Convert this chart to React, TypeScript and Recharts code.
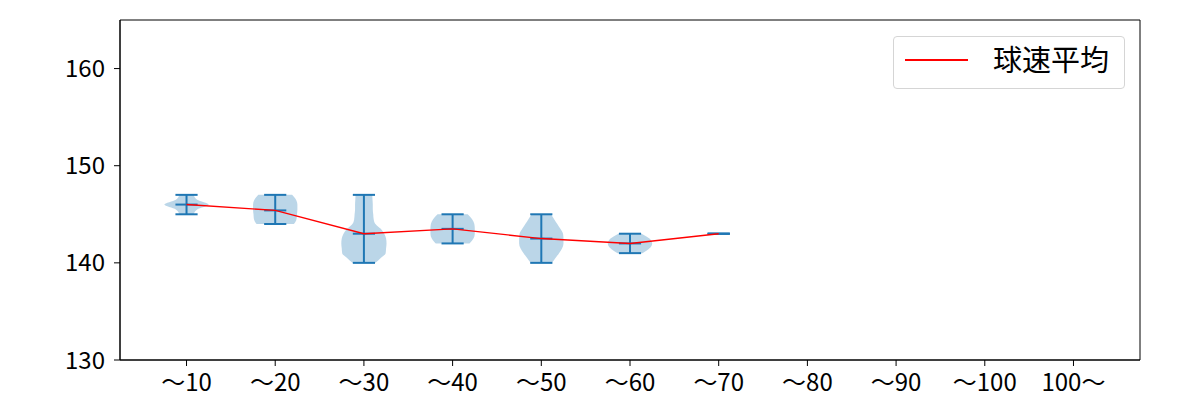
import {
  ComposedChart,
  Area,
  Line,
  XAxis,
  YAxis,
  ReferenceLine,
  ReferenceArea,
  Legend,
} from "recharts";

const categories = ["～10", "～20", "～30", "～40", "～50", "～60", "～70", "～80", "～90", "～100", "100～"];
const yTicks = [130, 140, 150, 160];

const meanSpeed = [146.0, 145.4, 143.0, 143.5, 142.5, 142.0, 143.0];
const minSpeed = [145, 144, 140, 142, 140, 141, 143];
const maxSpeed = [147, 147, 147, 145, 145, 143, 143];

// violin half-widths, every 0.5 km/h going up from each group's min
const violin10 = [0.08, 0.12, 0.25, 0.12, 0.08];
const violin20 = [0.21, 0.24, 0.245, 0.25, 0.25, 0.235, 0.19];
const violin30 = [0.13, 0.19, 0.245, 0.25, 0.255, 0.25, 0.23, 0.19, 0.13, 0.11, 0.105, 0.1, 0.1, 0.097, 0.094];
const violin40 = [0.19, 0.235, 0.25, 0.25, 0.245, 0.22, 0.17];
const violin50 = [0.12, 0.16, 0.2, 0.235, 0.25, 0.25, 0.245, 0.215, 0.18, 0.145, 0.11];
const violin60 = [0.14, 0.22, 0.25, 0.22, 0.13];
const violins = [violin10, violin20, violin30, violin40, violin50, violin60];

const BLUE = "#1f77b4";
const FONT = "'Noto Sans CJK JP', 'Noto Sans', sans-serif";
const TICK_FONT = 24;

const lo = Math.min(...minSpeed);
const hi = Math.max(...maxSpeed);
const rows: Record<string, any>[] = [];
for (let k = 0; lo + k * 0.5 <= hi; k++) {
  const v = lo + k * 0.5;
  const row: Record<string, any> = { v };
  violins.forEach((w, i) => {
    const j = Math.round((v - minSpeed[i]) * 2);
    if (j >= 0 && j < w.length) row["r" + i] = [i + 1 - w[j], i + 1 + w[j]];
  });
  rows.push(row);
}

const meanLine = meanSpeed.map((m, i) => ({ v: m, x: i + 1 }));
const CAP = 0.125;

const LegendBox = () => (
  <div
    style={{
      width: 230,
      height: 51,
      border: "1px solid #d5d5d5",
      borderRadius: 4,
      background: "rgba(255,255,255,0.8)",
      position: "relative",
      fontFamily: FONT,
    }}
  >
    <div style={{ position: "absolute", left: 11, top: 22, width: 63, height: 1.5, background: "red" }} />
    <div
      style={{
        position: "absolute",
        left: 99,
        top: 2,
        fontSize: 29,
        lineHeight: "38px",
        color: "#000",
        whiteSpace: "nowrap",
      }}
    >
      球速平均
    </div>
  </div>
);

export default function App() {
  return (
    <div style={{ position: "absolute", left: 0, top: 0 }}>
      <ComposedChart
        width={1200}
        height={400}
        data={rows}
        layout="vertical"
        margin={{ top: 20, right: 60, bottom: 0, left: 60 }}
        style={{ fontFamily: FONT }}
      >
        <XAxis
          type="number"
          domain={[0.25, 11.75]}
          ticks={categories.map((_, i) => i + 1)}
          tickFormatter={(t: number) => categories[t - 1]}
          allowDataOverflow
          height={40}
          stroke="#000"
          tickSize={6}
          tickMargin={8}
          tick={{ fill: "#000", fontSize: TICK_FONT }}
        />
        <YAxis
          type="number"
          dataKey="v"
          domain={[130, 165]}
          ticks={yTicks}
          allowDataOverflow
          reversed
          width={60}
          stroke="#000"
          tickSize={6}
          tickMargin={9}
          tick={{ fill: "#000", fontSize: TICK_FONT }}
        />
        <ReferenceArea x1={0.25} x2={11.75} y1={130} y2={165} fill="none" stroke="#000" strokeWidth={1} ifOverflow="visible" />
        {violins.map((_, i) => (
          <Area
            key={i}
            dataKey={"r" + i}
            type="monotone"
            stroke="none"
            fill={BLUE}
            fillOpacity={0.3}
            isAnimationActive={false}
          />
        ))}
        {meanSpeed.map((_, i) => (
          <ReferenceLine
            key={"s" + i}
            segment={[{ x: i + 1, y: minSpeed[i] }, { x: i + 1, y: maxSpeed[i] }]}
            stroke={BLUE}
            strokeWidth={2}
          />
        ))}
        {[minSpeed, maxSpeed, meanSpeed].flatMap((vals, n) =>
          vals.map((val, i) => (
            <ReferenceLine
              key={"c" + n + "-" + i}
              segment={[{ x: i + 1 - CAP, y: val }, { x: i + 1 + CAP, y: val }]}
              stroke={BLUE}
              strokeWidth={2}
            />
          ))
        )}
        <Line
          data={meanLine}
          dataKey="x"
          type="linear"
          stroke="red"
          strokeWidth={1.4}
          dot={false}
          isAnimationActive={false}
          name="球速平均"
        />
        <Legend
          layout="vertical"
          align="center"
          verticalAlign="middle"
          content={() => <LegendBox />}
          wrapperStyle={{ left: 893, top: 36, width: 232, height: 53 }}
        />
      </ComposedChart>
    </div>
  );
}
